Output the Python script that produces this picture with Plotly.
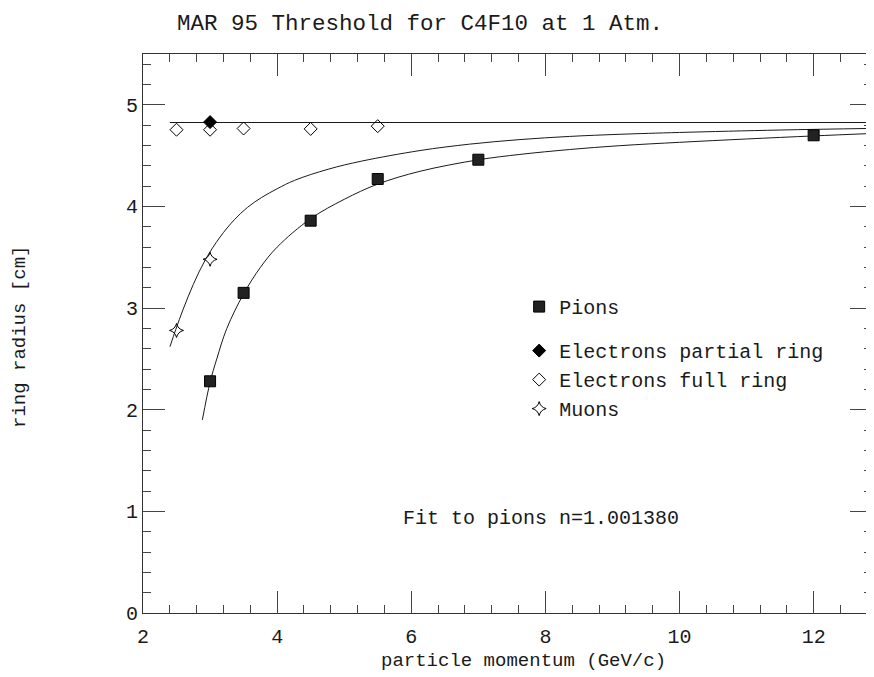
import plotly.graph_objects as go

# ---- data ----
pion_p = [3.0, 3.5, 4.5, 5.5, 7.0, 12.0]
pion_r = [2.28, 3.15, 3.86, 4.27, 4.46, 4.70]

epart_p = [3.0]
epart_r = [4.83]

efull_p = [2.5, 3.0, 3.5, 4.5, 5.5]
efull_r = [4.755, 4.755, 4.767, 4.763, 4.79]

muon_p = [2.5, 3.0]
muon_r = [2.78, 3.48]

# fit curves
pifit_p = [2.885, 3.0, 3.1, 3.25, 3.5, 3.75, 4.0, 4.5, 5.0, 5.5, 6.13, 7.0,
           7.62, 8.36, 9.11, 10.0, 11.0, 12.0, 12.87]
pifit_r = [1.90, 2.27, 2.50, 2.80, 3.14, 3.40, 3.60, 3.88, 4.07, 4.22, 4.346, 4.459,
           4.512, 4.56, 4.598, 4.631, 4.664, 4.694, 4.718]

mufit_p = [2.402, 2.49, 2.60, 2.75, 2.93, 3.15, 3.36, 3.56, 3.77, 4.0, 4.26, 4.76, 5.26,
           6.13, 6.87, 7.62, 8.36, 9.11, 10.0, 11.5, 12.87]
mufit_r = [2.62, 2.792, 2.99, 3.233, 3.476, 3.70, 3.868, 3.992, 4.089, 4.174, 4.257, 4.366,
           4.446, 4.55, 4.613, 4.658, 4.689, 4.71, 4.728, 4.752, 4.768]

sat_p = [2.4, 12.87]
sat_r = [4.826, 4.826]

x_range = [2, 12.87]
y_range = [0, 5.5]

FONT = "Liberation Mono"
INK = "#1a1a1a"

# page has an 8px body margin: work in figure coordinates
OFF = 8
W, H = 866, 669
L, R, T, B = 135, 2, 46, 64
pw, ph = W - L - R, H - T - B

fig = go.Figure()

fig.add_trace(go.Scatter(x=sat_p, y=sat_r, mode="lines", line=dict(color=INK, width=1),
                         showlegend=False, hoverinfo="skip"))
fig.add_trace(go.Scatter(x=mufit_p, y=mufit_r, mode="lines",
                         line=dict(color=INK, width=1, shape="spline", smoothing=1.0),
                         showlegend=False, hoverinfo="skip"))
fig.add_trace(go.Scatter(x=pifit_p, y=pifit_r, mode="lines",
                         line=dict(color=INK, width=1, shape="spline", smoothing=1.0),
                         showlegend=False, hoverinfo="skip"))

fig.add_trace(go.Scatter(x=pion_p, y=pion_r, mode="markers", name="Pions",
                         legendgroup="a",
                         marker=dict(symbol="square", size=11, color="#222",
                                     line=dict(color="#000", width=1))))
fig.add_trace(go.Scatter(x=epart_p, y=epart_r, mode="markers", name="Electrons partial ring",
                         legendgroup="b",
                         marker=dict(symbol="diamond", size=10, color="#000",
                                     line=dict(color="#000", width=1))))
fig.add_trace(go.Scatter(x=efull_p, y=efull_r, mode="markers", name="Electrons full ring",
                         legendgroup="b",
                         marker=dict(symbol="diamond-open", size=10, color="#000",
                                     line=dict(color="#000", width=1))))
fig.add_trace(go.Scatter(x=muon_p, y=muon_r, mode="markers", name="Muons",
                         legendgroup="b",
                         marker=dict(symbol="star-diamond-open", size=10, color="#000",
                                     line=dict(color="#000", width=1))))

axis_common = dict(
    showgrid=False, zeroline=False, showline=True, linecolor="#333", linewidth=1,
    mirror="ticks", ticks="inside", ticklen=22, tickwidth=1, tickcolor="#444",
    tickfont=dict(family=FONT, size=20, color=INK),
    minor=dict(ticks="inside", ticklen=8, tickwidth=1, tickcolor="#444", showgrid=False),
)

fig.update_xaxes(range=x_range, dtick=2, tick0=2, ticklabelstandoff=5,
                 minor_dtick=0.4, **axis_common)
fig.update_yaxes(range=y_range, dtick=1, tick0=0, ticklabelstandoff=0,
                 minor_dtick=0.2, **axis_common)


def px_x(v):
    return (v - OFF - L) / pw


def px_y(v):
    return 1 - (v - OFF - T) / ph


fig.update_layout(
    width=W, height=H,
    margin=dict(l=L, r=R, t=T, b=B),
    paper_bgcolor="white", plot_bgcolor="white",
    font=dict(family=FONT, color=INK),
    title=dict(text="MAR 95 Threshold for C4F10 at 1 Atm.",
               font=dict(family=FONT, size=22.5, color=INK),
               x=(420 - OFF) / W, xref="container", xanchor="center",
               y=1 - (22 - OFF) / H, yref="container", yanchor="middle"),
    legend=dict(x=0.516, xanchor="left", y=0.583, yanchor="top",
                font=dict(family=FONT, size=20, color=INK),
                bgcolor="rgba(0,0,0,0)", traceorder="grouped", tracegroupgap=15,
                itemsizing="trace"),
    showlegend=True,
    annotations=[
        dict(text="Fit to pions n=1.001380", x=7.93, y=0.93, xref="x", yref="y",
             xanchor="center", yanchor="middle",
             showarrow=False, font=dict(family=FONT, size=20, color=INK)),
        dict(text="particle momentum (GeV/c)", x=px_x(523), y=px_y(661),
             xref="paper", yref="paper", xanchor="center", yanchor="middle",
             showarrow=False, font=dict(family=FONT, size=19, color=INK)),
        dict(text="ring radius [cm]", x=px_x(20), y=px_y(337), textangle=-90,
             xref="paper", yref="paper", xanchor="center", yanchor="middle",
             showarrow=False, font=dict(family=FONT, size=19, color=INK)),
    ],
)

fig.write_html("out.html")
